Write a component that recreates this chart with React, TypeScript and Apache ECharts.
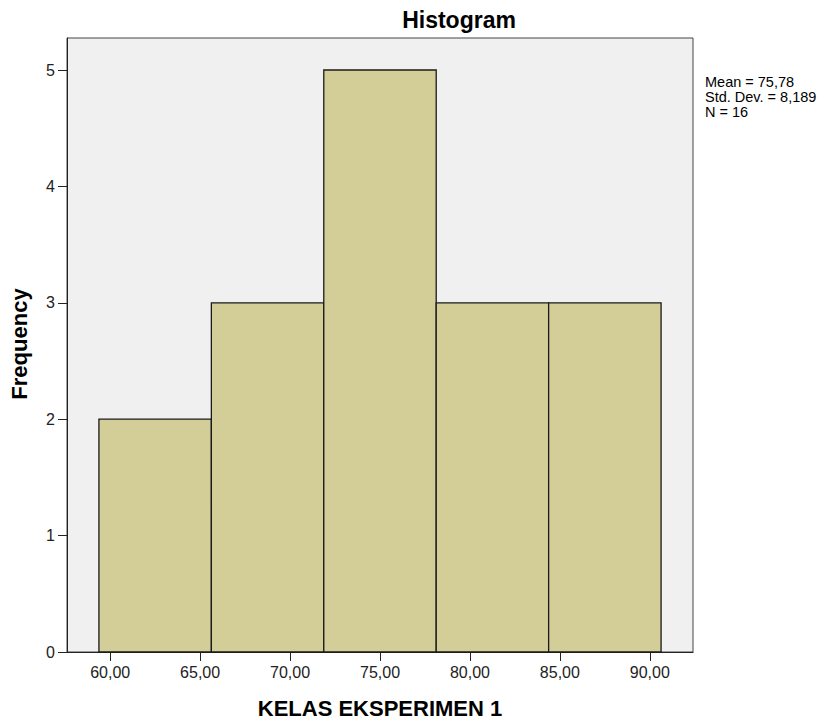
import React, { useEffect, useRef } from "react";
import * as echarts from "echarts";

const binEdges = [59.375, 65.625, 71.875, 78.125, 84.375, 90.625];
const frequencies = [2, 3, 5, 3, 3];
const xTicks = [60, 65, 70, 75, 80, 85, 90];
const yTicks = [0, 1, 2, 3, 4, 5];
const statsLines = ["Mean = 75,78", "Std. Dev. = 8,189", "N = 16"];
const chartTitle = "Histogram";
const xTitle = "KELAS EKSPERIMEN 1";
const yTitle = "Frequency";

const FONT = '"Liberation Sans", Arial, sans-serif';

export default function App() {
  const ref = useRef<HTMLDivElement>(null);
  useEffect(() => {
    if (!ref.current) return;
    const chart = echarts.init(ref.current, null, { renderer: "svg" });
    const data = frequencies.map((f, i) => [binEdges[i], binEdges[i + 1], f]);
    const statsTexts = statsLines.map((line, i) => ({
      type: "text",
      x: 705,
      y: 74 + i * 15,
      style: {
        text: line,
        font: `14.5px ${FONT}`,
        fill: "#000",
        textAlign: "left",
        textVerticalAlign: "top",
      },
    }));
    chart.setOption({
      animation: false,
      backgroundColor: "#ffffff",
      textStyle: { fontFamily: FONT },
      grid: {
        left: 67,
        top: 38,
        width: 626,
        height: 614,
        show: true,
        backgroundColor: "#f0f0f0",
        borderColor: "#444444",
        borderWidth: 1,
      },
      xAxis: {
        type: "value",
        min: 57.6,
        max: 92.4,
        splitLine: { show: false },
        axisLine: { show: true, onZero: false, lineStyle: { color: "#222", width: 1 } },
        axisTick: { show: true, customValues: xTicks, length: 9, lineStyle: { color: "#222" } },
        axisLabel: {
          customValues: xTicks,
          margin: 12,
          fontSize: 16,
          color: "#222",
          fontFamily: FONT,
          formatter: (v: number) => v.toFixed(2).replace(".", ","),
        },
      },
      yAxis: {
        type: "value",
        min: 0,
        max: 5.275,
        splitLine: { show: false },
        axisLine: { show: true, lineStyle: { color: "#222", width: 1 } },
        axisTick: { show: true, customValues: yTicks, length: 9, lineStyle: { color: "#222" } },
        axisLabel: {
          customValues: yTicks,
          margin: 12,
          fontSize: 16,
          color: "#222",
          fontFamily: FONT,
        },
      },
      series: [
        {
          type: "custom",
          data,
          encode: { x: [0, 1], y: 2 },
          renderItem: (params: any, api: any) => {
            const s = api.value(0);
            const e = api.value(1);
            const f = api.value(2);
            const p0 = api.coord([s, f]);
            const p1 = api.coord([e, 0]);
            return {
              type: "rect",
              shape: { x: p0[0], y: p0[1], width: p1[0] - p0[0], height: p1[1] - p0[1] },
              style: { fill: "#d3ce97", stroke: "#1a1a1a", lineWidth: 1.3 },
            };
          },
        },
      ],
      graphic: [
        {
          type: "text",
          x: 459,
          y: 20,
          style: {
            text: chartTitle,
            font: `bold 23px ${FONT}`,
            fill: "#000",
            textAlign: "center",
            textVerticalAlign: "middle",
          },
        },
        {
          type: "text",
          x: 380,
          y: 708,
          style: {
            text: xTitle,
            font: `bold 22px ${FONT}`,
            fill: "#000",
            textAlign: "center",
            textVerticalAlign: "middle",
          },
        },
        {
          type: "text",
          x: 19,
          y: 344,
          rotation: Math.PI / 2,
          style: {
            text: yTitle,
            font: `bold 22px ${FONT}`,
            fill: "#000",
            textAlign: "center",
            textVerticalAlign: "middle",
          },
        },
        ...statsTexts,
      ],
    });
    return () => chart.dispose();
  }, []);
  return (
    <div
      ref={ref}
      style={{ position: "fixed", left: 0, top: 0, width: 835, height: 725 }}
    />
  );
}
